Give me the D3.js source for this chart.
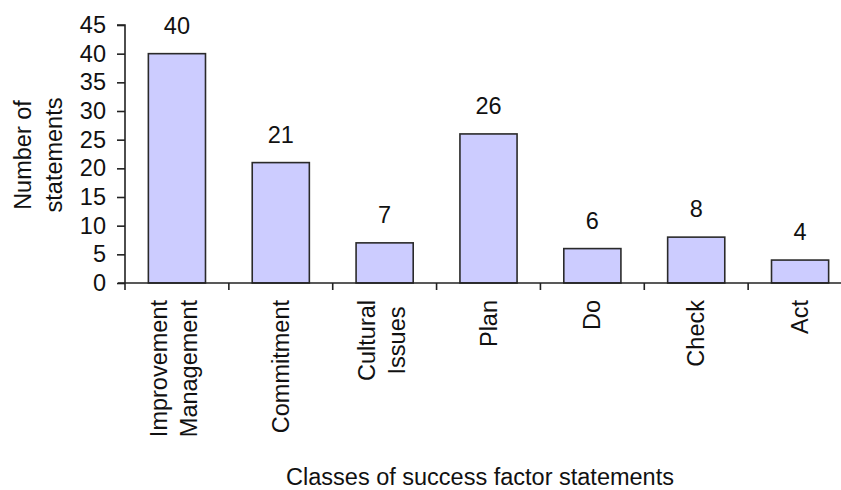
<!DOCTYPE html>
<html>
<head>
<meta charset="utf-8">
<script src="https://cdn.jsdelivr.net/npm/d3@7"></script>
<style>
  body { margin: 0; background: #fff; }
  text { font-family: "Liberation Sans", Arial, sans-serif; fill: #111; }
</style>
</head>
<body>
<script>
const width = 841;
const height = 490;

// data
const categories = ["Improvement Management", "Commitment", "Cultural Issues", "Plan", "Do", "Check", "Act"];
const labelLines = [["Improvement", "Management"], ["Commitment"], ["Cultural", "Issues"], ["Plan"], ["Do"], ["Check"], ["Act"]];
const counts = [40, 21, 7, 26, 6, 8, 4];
const yTicks = [0, 5, 10, 15, 20, 25, 30, 35, 40, 45];

const fontSize = 23.5;

const svg = d3.select("body").append("svg")
  .attr("width", width)
  .attr("height", height);

const x = d3.scaleBand()
  .domain(categories)
  .range([125, 852])
  .paddingInner(0.45)
  .paddingOuter(0.225);

const y = d3.scaleLinear()
  .domain([0, 45])
  .range([283, 25]);

// bars
svg.selectAll("rect.bar")
  .data(counts)
  .enter()
  .append("rect")
  .attr("class", "bar")
  .attr("x", (d, i) => x(categories[i]))
  .attr("y", d => y(d))
  .attr("width", x.bandwidth())
  .attr("height", d => y(0) - y(d))
  .attr("fill", "#ccccff")
  .attr("stroke", "#2a2a2a")
  .attr("stroke-width", 1.6);

// value labels
svg.selectAll("text.val")
  .data(counts)
  .enter()
  .append("text")
  .attr("class", "val")
  .attr("x", (d, i) => x(categories[i]) + x.bandwidth() / 2)
  .attr("y", d => y(d) - 20)
  .attr("text-anchor", "middle")
  .attr("font-size", fontSize)
  .text(d => d);

// y axis
const yAxis = d3.axisLeft(y)
  .tickValues(yTicks)
  .tickSize(8)
  .tickPadding(11);

const gy = svg.append("g")
  .attr("transform", "translate(125,0)")
  .call(yAxis);
gy.select(".domain").attr("stroke", "#222").attr("stroke-width", 1.6).attr("d", "M-8,25H0V283");
gy.selectAll(".tick line").attr("stroke", "#222").attr("stroke-width", 1.6);
gy.selectAll(".tick text").attr("font-size", fontSize).attr("fill", "#111")
  .attr("font-family", "Liberation Sans, Arial, sans-serif");

// x axis: ticks sit between the categories
const xEdge = d3.scaleLinear().domain([0, categories.length]).range(x.range());
const gx = svg.append("g")
  .attr("transform", "translate(0,283)");
gx.append("line")
  .attr("x1", 118).attr("x2", 852)
  .attr("stroke", "#222").attr("stroke-width", 1.6);
gx.selectAll("line.tk")
  .data(d3.range(categories.length + 1))
  .enter()
  .append("line")
  .attr("class", "tk")
  .attr("x1", d => xEdge(d)).attr("x2", d => xEdge(d))
  .attr("y1", 0).attr("y2", 7)
  .attr("stroke", "#222").attr("stroke-width", 1.6);

// category labels, rotated, lines centred, block top-aligned
const labelTop = 300;
labelLines.forEach((lines, i) => {
  const cx = x(categories[i]) + x.bandwidth() / 2;
  const g = svg.append("g");
  const texts = lines.map((ln, j) => {
    const base = lines.length === 1 ? cx + 8 : cx + 5 + (j - 0.5) * 30;
    return g.append("text")
      .attr("font-size", fontSize)
      .attr("text-anchor", "middle")
      .attr("data-base", base)
      .text(ln);
  });
  const maxW = d3.max(texts, t => t.node().getComputedTextLength());
  texts.forEach(t => {
    const base = +t.attr("data-base");
    const cy = labelTop + maxW / 2;
    t.attr("transform", `translate(${base},${cy}) rotate(-90)`);
  });
});

// y axis title
svg.append("text")
  .attr("transform", "translate(31,155) rotate(-90)")
  .attr("text-anchor", "middle")
  .attr("font-size", fontSize)
  .text("Number of");
svg.append("text")
  .attr("transform", "translate(62,155) rotate(-90)")
  .attr("text-anchor", "middle")
  .attr("font-size", fontSize)
  .text("statements");

// x axis title
svg.append("text")
  .attr("x", 480)
  .attr("y", 485)
  .attr("text-anchor", "middle")
  .attr("font-size", fontSize)
  .text("Classes of success factor statements");
</script>
</body>
</html>
